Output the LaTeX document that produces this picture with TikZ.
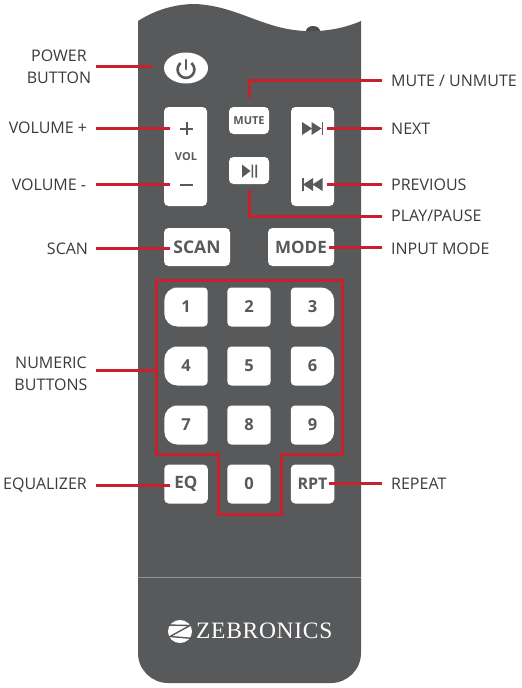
\documentclass[tikz,border=0pt]{standalone}
\usetikzlibrary{shapes.geometric}
\usepackage{fontspec}
\setmainfont{Open Sans}
\newfontfamily\logofont[LetterSpace=3]{Liberation Serif}
\definecolor{bodygray}{HTML}{58595B}
\definecolor{linered}{HTML}{C9202E}
\definecolor{labelink}{HTML}{3A3A3C}
\tikzset{
  lbl/.style={text=labelink,font=\fontsize{16}{22}\selectfont,inner sep=0pt,align=center},
  rlbl/.style={lbl,anchor=west},
  wire/.style={draw=linered,line width=3pt},
  keybox/.style={fill=white,rounded corners=4.5pt,inner sep=0pt,text=bodygray,font=\bfseries},
  numtxt/.style={text=bodygray,inner sep=0pt,font=\fontsize{16.5}{16.5}\selectfont\bfseries},
  icon/.style={fill=bodygray},
}
% key x centre, key y centre, left radius, right radius, digit, name
\newcommand\numkey[6]{%
  \fill[white] (#1,#2-19.5) [rounded corners=#4] -- (#1+21.7,#2-19.5) -- (#1+21.7,#2+19.5) -- (#1,#2+19.5)
     [rounded corners=#3] -- (#1-21.7,#2+19.5) -- (#1-21.7,#2-19.5) -- cycle;
  \node[numtxt] (#6) at (#1,#2) {#5};
}
\begin{document}
\begin{tikzpicture}[x=1pt,y=-1pt]
\useasboundingbox (0,0) rectangle (522,688);
% remote body
\fill[bodygray!85!black] (313,31) ellipse (7 and 5);
\fill[bodygray] (138,21) .. controls (155,10) and (175,4) .. (195,4)
  .. controls (238,6) and (262,29) .. (305,31) .. controls (325,32) and (345,28) .. (361,21)
  -- (361,653) .. controls (361,670) and (347,683) .. (331,683)
  -- (168,683) .. controls (152,683) and (138,670) .. (138,653) -- cycle;
\draw[white!35!bodygray,line width=0.7pt] (138,577.5) -- (361,577.5);
% power
\node[fill=white,ellipse,minimum width=44pt,minimum height=31pt,inner sep=0pt] (power) at (186,68) {};
\draw[bodygray,line width=2.6pt] plot[domain=40:320,samples=40] ({186+8.3*sin(\x)},{69.5-8.3*cos(\x)});
\draw[bodygray,line width=2.6pt,line cap=round] (186,60) -- (186,69);
% volume
\node[keybox,minimum width=43pt,minimum height=99pt] (vol) at (185.5,156.5) {};
\node[text=bodygray,inner sep=0pt,font=\fontsize{11}{11}\selectfont\bfseries] (voltext) at (186,157) {VOL};
\draw[bodygray,line width=2pt] (180,128.5) -- (193,128.5) (186.5,122) -- (186.5,135);
\draw[bodygray,line width=2pt] (180,184.5) -- (193,184.5);
% mute, play
\node[keybox,minimum width=40pt,minimum height=27pt,font=\fontsize{11}{11}\selectfont\bfseries] (mute) at (249,120.5) {MUTE};
\node[keybox,minimum width=40pt,minimum height=27pt] (play) at (249,170.5) {};
\fill[icon] (242,164.5) -- (250.5,171) -- (242,177.5) -- cycle;
\fill[icon] (251.5,164.5) rectangle (253.2,177.5) (255.3,164.5) rectangle (257,177.5);
% next / prev
\node[keybox,minimum width=43pt,minimum height=99pt] (skip) at (312.5,156.5) {};
\fill[icon] (302,122) -- (312,128.5) -- (302,135) -- cycle (311.5,122) -- (321.5,128.5) -- (311.5,135) -- cycle;
\fill[icon] (321.5,122) rectangle (323,135);
\fill[icon] (322.5,178) -- (312.5,184.5) -- (322.5,191) -- cycle (313,178) -- (303,184.5) -- (313,191) -- cycle;
\fill[icon] (302,178) rectangle (303.5,191);
% scan, mode
\node[keybox,minimum width=66pt,minimum height=38pt,font=\fontsize{17.5}{17.5}\selectfont\bfseries] (scan) at (197,247) {SCAN};
\node[keybox,minimum width=66pt,minimum height=38pt,font=\fontsize{17}{17}\selectfont\bfseries] (mode) at (301,247) {MODE};
% numeric keys
\numkey{186}{307}{13pt}{4pt}{1}{k1}
\numkey{249}{307}{4pt}{4pt}{2}{k2}
\numkey{312.5}{307}{4pt}{13pt}{3}{k3}
\numkey{186}{366}{13pt}{4pt}{4}{k4}
\numkey{249}{366}{4pt}{4pt}{5}{k5}
\numkey{312.5}{366}{4pt}{13pt}{6}{k6}
\numkey{186}{425}{13pt}{4pt}{7}{k7}
\numkey{249}{425}{4pt}{4pt}{8}{k8}
\numkey{312.5}{425}{4pt}{13pt}{9}{k9}
\numkey{249}{484}{4pt}{4pt}{0}{k0}
\node[keybox,minimum width=43.5pt,minimum height=39pt,font=\fontsize{17}{17}\selectfont\bfseries] (eq) at (186,484) {EQ};
\node[keybox,minimum width=43.5pt,minimum height=39pt,font=\fontsize{16}{16}\selectfont\bfseries] (rpt) at (312.5,484) {RPT};
% red outline
\draw[wire,line join=miter] (156,280) -- (342,280) -- (342,454) -- (281,454) -- (281,514) -- (218,514) -- (218,454) -- (156,454) -- cycle;
% labels
\node[lbl] (lpower) at (59,67) {POWER\\BUTTON};
\node[lbl] (lvolp) at (48,128) {VOLUME +};
\node[lbl] (lvolm) at (49,185) {VOLUME -};
\node[lbl] (lscan) at (67.5,248.5) {SCAN};
\node[lbl] (lnum) at (51,374) {NUMERIC\\BUTTONS};
\node[lbl] (leq) at (45,485) {EQUALIZER};
\node[rlbl] (lmute) at (391,81) {MUTE / UNMUTE};
\node[rlbl] (lnext) at (391,128.5) {NEXT};
\node[rlbl] (lprev) at (391,185) {PREVIOUS};
\node[rlbl] (lplay) at (391,216) {PLAY/PAUSE};
\node[rlbl] (lmode) at (391,249) {INPUT MODE};
\node[rlbl] (lrpt) at (391,484) {REPEAT};
% connector ends
\coordinate (a1) at (96,66); \coordinate (a2) at (152,66);
\coordinate (b1) at (96,128); \coordinate (b2) at (170,128);
\coordinate (c1) at (96,184); \coordinate (c2) at (170,184);
\coordinate (d1) at (96,248); \coordinate (d2) at (170,248);
\coordinate (e1) at (96,370); \coordinate (e2) at (156,370);
\coordinate (f1) at (96,485.5); \coordinate (f2) at (170,485.5);
\coordinate (g1) at (249,98); \coordinate (g2) at (382,80);
\coordinate (h1) at (327,128); \coordinate (h2) at (382,128);
\coordinate (i1) at (327,184); \coordinate (i2) at (382,184);
\coordinate (j1) at (249,190); \coordinate (j2) at (382,216);
\coordinate (m1) at (329,247); \coordinate (m2) at (382,247);
\coordinate (n1) at (329,483); \coordinate (n2) at (382,483);
\draw[wire] (a1) -- (a2);
\draw[wire] (b1) -- (b2);
\draw[wire] (c1) -- (c2);
\draw[wire] (d1) -- (d2);
\draw[wire] (e1) -- (e2);
\draw[wire] (f1) -- (f2);
\draw[wire] (g1) |- (g2);
\draw[wire] (h1) -- (h2);
\draw[wire] (i1) -- (i2);
\draw[wire] (j1) |- (j2);
\draw[wire] (m1) -- (m2);
\draw[wire] (n1) -- (n2);
% logo
\fill[white] (180,631.5) ellipse (12 and 11.5);
\draw[bodygray,line width=1.4pt] (166,625) -- (190,625.5) -- (170,636.5) -- (194,638.5);
\node[text=white,inner sep=0pt,anchor=west,font=\fontsize{23.5}{23.5}\selectfont\logofont] (logo) at (196,630.5) {ZEBRONICS};
\end{tikzpicture}
\end{document}
